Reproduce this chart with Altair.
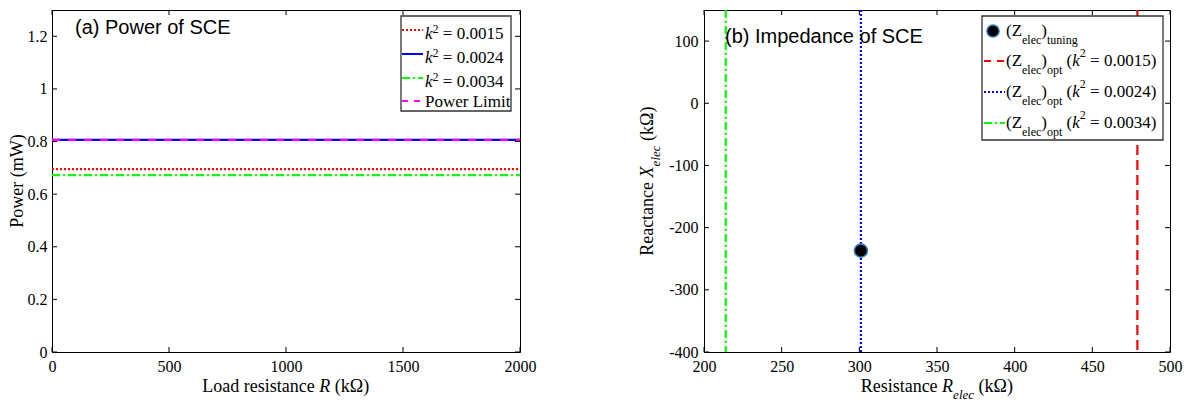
import altair as alt
import pandas as pd

# ---------------- data ----------------
R_load = [0, 2000]
P_k0015 = [0.695, 0.695]
P_k0024 = [0.806, 0.806]
P_k0034 = [0.672, 0.672]
P_limit = [0.806, 0.806]

k2_labels = ["0.0015", "0.0024", "0.0034"]
R_opt = [479, 301, 214]          # (Z_elec)_opt resistance for each k^2
R_tuning = [301]
X_tuning = [-237]

xt_a = [0, 500, 1000, 1500, 2000]
yt_a = [0, 0.2, 0.4, 0.6, 0.8, 1, 1.2]
xt_b = [200, 250, 300, 350, 400, 450, 500]
yt_b = [-400, -300, -200, -100, 0, 100]

# ---------------- layout / style ----------------
W_A, W_B, H = 468, 466, 342
SERIF = "Liberation Serif"
SANS = "Liberation Sans"
RED, BLUE, GREEN, MAGENTA = "#ff0000", "#0000ff", "#00ff00", "#ff00ff"
DOT, SOLID, DASHDOT, DASH = [2, 2], [1, 0], [8, 3, 2, 3], [8, 8]

RG = {' ': .25, '(': .333, ')': .333, '=': .564, '.': .25, '-': .333,
      'L': .611, 'R': .667, 'P': .556, 'W': .944, 'Z': .611, 'X': .722,
      'a': .444, 'c': .444, 'd': .5, 'e': .444, 'g': .5, 'i': .278, 'k': .5,
      'l': .278, 'm': .778, 'n': .5, 'o': .5, 'p': .5, 'r': .333, 's': .389,
      't': .278, 'u': .5, 'w': .722, 'Ω': .768}
IT = {' ': .25, 'R': .611, 'X': .611, 'k': .444, 'e': .444, 'l': .278, 'c': .444}


def width(s, size, italic=False):
    tbl = IT if italic else RG
    return sum(tbl.get(ch, RG.get(ch, .5)) for ch in s) * size


dummy = pd.DataFrame({"d": [0]})


def txt(s, x, y, size, italic=False, angle=0, font=SERIF, baseline="alphabetic"):
    kw = dict(text=s, font=font, fontSize=size,
              fontStyle="italic" if italic else "normal",
              align="left", baseline=baseline, color="black")
    if angle:
        kw["angle"] = angle
    return alt.Chart(dummy).mark_text(**kw).encode(x=alt.value(x), y=alt.value(y))


def rich(pieces, x, y, vertical=False):
    layers = []
    pos = 0.0
    for s, size, it, sh in pieces:
        lead = len(s) - len(s.lstrip(" "))
        core = s.strip(" ")
        p = pos + width(" " * lead, size, it)
        if vertical:
            layers.append(txt(core, x + sh, y - p, size, it, angle=270))
        else:
            layers.append(txt(core, x + p, y + sh, size, it))
        pos += width(s, size, it)
    return layers


def total(pieces):
    return sum(width(s, size, it) for s, size, it, sh in pieces)


def axis(vals, pad):
    return alt.Axis(values=vals, title=None, ticks=False, tickSize=0, domain=False,
                    grid=False, labelFont=SERIF, labelFontSize=16, labelColor="black",
                    labelPadding=pad, labelFlush=False, labelOverlap=False,
                    labelExpr="'' + datum.value")


def inner_ticks(xvals, yvals, xs, ys, ax_x, ax_y, W):
    dx = pd.DataFrame({"v": xvals})
    dy = pd.DataFrame({"v": yvals})
    out = []
    for y0, y1 in [(H, H - 5), (0, 5)]:
        out.append(alt.Chart(dx).mark_rule(color="black", strokeWidth=1).encode(
            x=alt.X("v:Q", scale=xs, axis=ax_x), y=alt.value(y0), y2=alt.value(y1)))
    for x0, x1 in [(0, 5), (W - 5, W)]:
        out.append(alt.Chart(dy).mark_rule(color="black", strokeWidth=1).encode(
            y=alt.Y("v:Q", scale=ys, axis=ax_y), x=alt.value(x0), x2=alt.value(x1)))
    return out


# ================= (a) Power of SCE =================
xs_a = alt.Scale(domain=[0, 2000], nice=False, zero=False)
ys_a = alt.Scale(domain=[0, 1.3], nice=False, zero=False)
ax_xa = axis(xt_a, 6)
ax_ya = axis(yt_a, 5)

series_a = [
    (P_k0015, RED, DOT),
    (P_k0034, GREEN, DASHDOT),
    (P_k0024, BLUE, SOLID),
    (P_limit, MAGENTA, DASH),
]
layers_a = []
for vals, col, dash in series_a:
    df = pd.DataFrame({"R": R_load, "P": vals})
    layers_a.append(alt.Chart(df).mark_line(color=col, strokeDash=dash, strokeWidth=2.2).encode(
        x=alt.X("R:Q", scale=xs_a, axis=ax_xa), y=alt.Y("P:Q", scale=ys_a, axis=ax_ya)))
layers_a += inner_ticks(xt_a, yt_a, xs_a, ys_a, ax_xa, ax_ya, W_A)

layers_a.append(txt("(a) Power of SCE", 23, 18, 20, font=SANS, baseline="middle"))

# legend (a)
layers_a.append(alt.Chart(dummy).mark_rect(fill="white", stroke="#333333", strokeWidth=1.3).encode(
    x=alt.value(349), x2=alt.value(459), y=alt.value(6), y2=alt.value(101)))
leg_a = [(RED, DOT, k2_labels[0]), (BLUE, SOLID, k2_labels[1]),
         (GREEN, DASHDOT, k2_labels[2]), (MAGENTA, [6, 6], None)]
rows_a = [20, 44, 68, 91]
for (col, dash, lab), ry in zip(leg_a, rows_a):
    layers_a.append(alt.Chart(dummy).mark_rule(color=col, strokeDash=dash, strokeWidth=2).encode(
        x=alt.value(350), x2=alt.value(371), y=alt.value(ry)))
    if lab is None:
        layers_a += rich([("Power Limit", 17, False, 0)], 373, ry + 5.5)
    else:
        layers_a += rich([("k", 17, True, 0), ("2", 12, False, -6.5),
                          (" = " + lab, 17, False, 0)], 373, ry + 9)

# axis titles (a)
xt_pieces_a = [("Load resistance", 18, False, 0), (" R", 18, True, 0), (" (kΩ)", 18, False, 0)]
layers_a += rich(xt_pieces_a, W_A / 2 - total(xt_pieces_a) / 2, H + 40)
yt_pieces_a = [("Power (mW)", 18, False, 0)]
layers_a += rich(yt_pieces_a, -29, H / 2 + total(yt_pieces_a) / 2, vertical=True)

chart_a = alt.layer(*layers_a).properties(width=W_A, height=H)

# ================= (b) Impedance of SCE =================
xs_b = alt.Scale(domain=[200, 500], nice=False, zero=False)
ys_b = alt.Scale(domain=[-400, 150], nice=False, zero=False)
ax_xb = axis(xt_b, 6)
ax_yb = axis(yt_b, 6)

layers_b = []
for r, col, dash in zip(R_opt, [RED, BLUE, GREEN], [[10, 5], DOT, DASHDOT]):
    df = pd.DataFrame({"R": [r]})
    layers_b.append(alt.Chart(df).mark_rule(color=col, strokeDash=dash, strokeWidth=2.2).encode(
        x=alt.X("R:Q", scale=xs_b, axis=ax_xb)))
df_pt = pd.DataFrame({"R": R_tuning, "X": X_tuning})
layers_b.append(alt.Chart(df_pt).mark_point(shape="circle", filled=True, fill="black",
                                            stroke="#2f80c0", strokeWidth=1.5, size=170,
                                            opacity=1).encode(
    x=alt.X("R:Q", scale=xs_b, axis=ax_xb), y=alt.Y("X:Q", scale=ys_b, axis=ax_yb)))
layers_b += inner_ticks(xt_b, yt_b, xs_b, ys_b, ax_xb, ax_yb, W_B)

layers_b.append(txt("(b) Impedance of SCE", 21, 27, 20, font=SANS, baseline="middle"))

# legend (b)
layers_b.append(alt.Chart(dummy).mark_rect(fill="white", stroke="#333333", strokeWidth=1.3).encode(
    x=alt.value(278), x2=alt.value(459), y=alt.value(6), y2=alt.value(130)))
rows_b = [21, 51, 82, 113]
layers_b.append(alt.Chart(dummy).mark_point(shape="circle", filled=True, fill="black",
                                            stroke="#2f80c0", strokeWidth=1.5, size=150,
                                            opacity=1).encode(
    x=alt.value(289), y=alt.value(rows_b[0])))
layers_b += rich([("(Z", 17, False, 0), ("elec", 12, False, 8), (")", 17, False, 0),
                  ("tuning", 12, False, 8)], 302, rows_b[0] + 5)
for col, dash, lab, ry in zip([RED, BLUE, GREEN], [[7, 6], DOT, DASHDOT], k2_labels, rows_b[1:]):
    layers_b.append(alt.Chart(dummy).mark_rule(color=col, strokeDash=dash, strokeWidth=2).encode(
        x=alt.value(280), x2=alt.value(301), y=alt.value(ry)))
    layers_b += rich([("(Z", 17, False, 0), ("elec", 12, False, 8), (")", 17, False, 0),
                      ("opt", 12, False, 8), (" (", 17, False, 0), ("k", 17, True, 0),
                      ("2", 12, False, -9.5), (" = " + lab + ")", 17, False, 0)], 302, ry + 5)

# axis titles (b)
xt_pieces_b = [("Resistance", 18, False, 0), (" R", 18, True, 0), ("elec", 13, True, 7),
               (" (kΩ)", 18, False, 0)]
layers_b += rich(xt_pieces_b, W_B / 2 - total(xt_pieces_b) / 2, H + 40)
yt_pieces_b = [("Reactance", 18, False, 0), (" X", 18, True, 0), ("elec", 13, True, 7),
               (" (kΩ)", 18, False, 0)]
layers_b += rich(yt_pieces_b, -51, H / 2 + total(yt_pieces_b) / 2, vertical=True)

chart_b = alt.layer(*layers_b).properties(width=W_B, height=H)

chart = alt.hconcat(chart_a, chart_b, spacing=184, bounds="flush").properties(
    padding=0, background="white"
).configure_view(stroke="black", strokeWidth=1)

chart.save("out.html", embed_options={"renderer": "svg", "actions": False})
